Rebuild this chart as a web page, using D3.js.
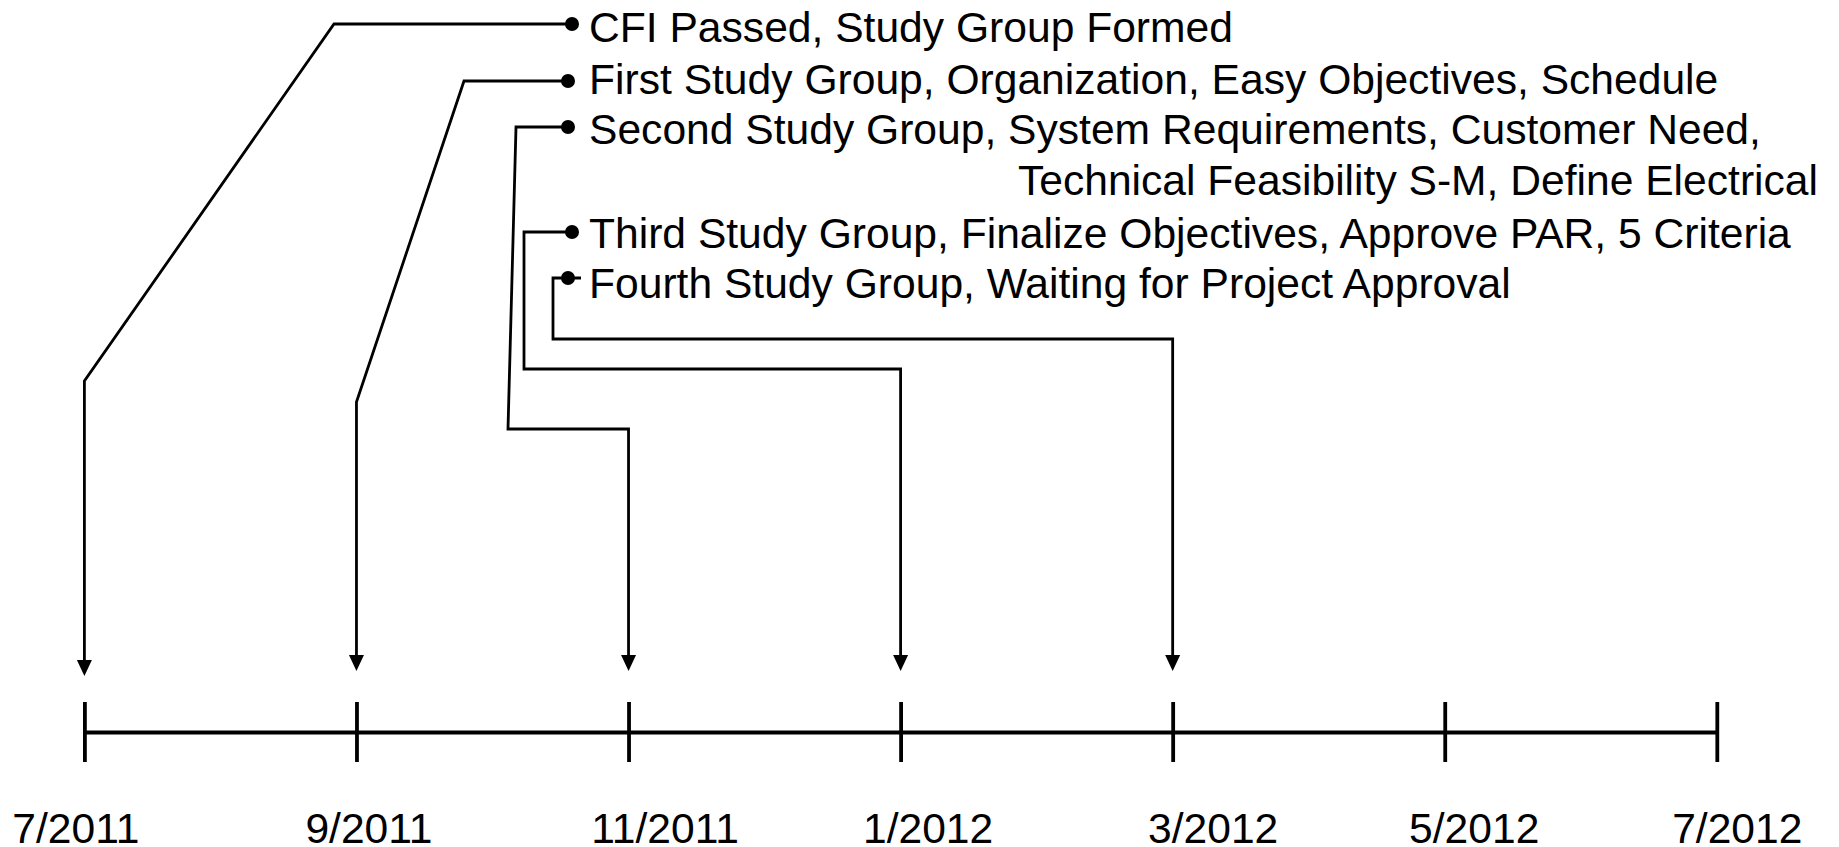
<!DOCTYPE html>
<html>
<head>
<meta charset="utf-8">
<script src="https://cdn.jsdelivr.net/npm/d3@7"></script>
<style>
  body { margin: 0; background: #fff; }
  svg { display: block; font-family: "Liberation Sans", Arial, sans-serif; }
</style>
</head>
<body>
<svg id="chart"></svg>
<script>
const WIDTH = 1839;
const HEIGHT = 847;
const AXIS_Y = 732;
const FONT_SIZE = 42.6;

// data
const tickLabels = ["7/2011", "9/2011", "11/2011", "1/2012", "3/2012", "5/2012", "7/2012"];
const milestoneMonths = ["7/2011", "9/2011", "11/2011", "1/2012", "3/2012"];
const milestoneText = [
   ["CFI Passed, Study Group Formed"],
   ["First Study Group, Organization, Easy Objectives, Schedule"],
   ["Second Study Group, System Requirements, Customer Need,", "Technical Feasibility S-M, Define Electrical"],
   ["Third Study Group, Finalize Objectives, Approve PAR, 5 Criteria"],
   ["Fourth Study Group, Waiting for Project Approval"]
];

// layout (the text boxes were hand placed, so labels sit a bit off their ticks)
const labelOffsets = [-9, 12, 36, 27, 40, 29, 20];
const TEXT_X = 589;
const textBaselines = [42, 93.5, 143.5, 247.5, 297.5];
const WRAP_LINE = { x: 1818, y: 195 };
const dots = [[572, 24], [568, 81], [568, 127], [572, 232], [568, 278]];
const routes = [
   { start: [572, 24], bends: [[334, 24]], turnY: 381, tipY: 676 },
   { start: [568, 81], bends: [[464, 81]], turnY: 402, tipY: 671 },
   { start: [568, 127], bends: [[516, 127], [508, 429]], turnY: 429, tipY: 671 },
   { start: [572, 232], bends: [[524, 232], [524, 369]], turnY: 369, tipY: 671 },
   { start: [581, 278], bends: [[553, 278], [553, 339]], turnY: 339, tipY: 671 }
];
const ARROW_LEN = 16;
const ARROW_HALF = 7.5;

const x = d3.scalePoint()
   .domain(tickLabels)
   .range([84.4, 1716.8]);

const svg = d3.select("#chart").attr("width", WIDTH).attr("height", HEIGHT);

// timeline axis
const gx = svg.append("g")
   .attr("transform", `translate(0,${AXIS_Y})`)
   .call(d3.axisBottom(x).tickSizeOuter(0).tickSizeInner(30).tickPadding(0));

gx.select(".domain").attr("stroke", "#000").attr("stroke-width", 4);
gx.selectAll(".tick line")
   .attr("y1", -30)
   .attr("y2", 30)
   .attr("stroke", "#000")
   .attr("stroke-width", 3.8);
gx.selectAll(".tick text")
   .attr("x", (_, i) => labelOffsets[i])
   .attr("y", 111)
   .attr("dy", 0)
   .attr("fill", "#000")
   .style("font-size", FONT_SIZE + "px")
   .style("font-family", "'Liberation Sans', Arial, sans-serif");

// connectors
const line = d3.line();
const items = milestoneMonths.map((m, i) => ({ month: m, route: routes[i], dot: dots[i] }));

svg.selectAll("path.route")
   .data(items)
   .enter()
   .append("path")
   .attr("class", "route")
   .attr("fill", "none")
   .attr("stroke", "#000")
   .attr("stroke-width", 2.8)
   .attr("stroke-linejoin", "miter")
   .attr("d", d => {
      const xt = x(d.month);
      const r = d.route;
      return line([r.start, ...r.bends, [xt, r.turnY], [xt, r.tipY - ARROW_LEN + 1]]);
   });

svg.selectAll("path.arrow")
   .data(items)
   .enter()
   .append("path")
   .attr("class", "arrow")
   .attr("fill", "#000")
   .attr("d", d => {
      const xt = x(d.month);
      const t = d.route.tipY;
      return `M${xt - ARROW_HALF},${t - ARROW_LEN}L${xt + ARROW_HALF},${t - ARROW_LEN}L${xt},${t}Z`;
   });

svg.selectAll("circle.dot")
   .data(items)
   .enter()
   .append("circle")
   .attr("class", "dot")
   .attr("cx", d => d.dot[0])
   .attr("cy", d => d.dot[1])
   .attr("r", 7)
   .attr("fill", "#000");

// milestone labels
svg.selectAll("text.milestone")
   .data(milestoneText)
   .enter()
   .append("text")
   .attr("class", "milestone")
   .attr("x", TEXT_X)
   .attr("y", (_, i) => textBaselines[i])
   .attr("font-size", FONT_SIZE)
   .attr("fill", "#000")
   .text(d => d[0]);

svg.append("text")
   .attr("x", WRAP_LINE.x)
   .attr("y", WRAP_LINE.y)
   .attr("text-anchor", "end")
   .attr("font-size", FONT_SIZE)
   .attr("fill", "#000")
   .text(milestoneText[2][1]);
</script>
</body>
</html>
